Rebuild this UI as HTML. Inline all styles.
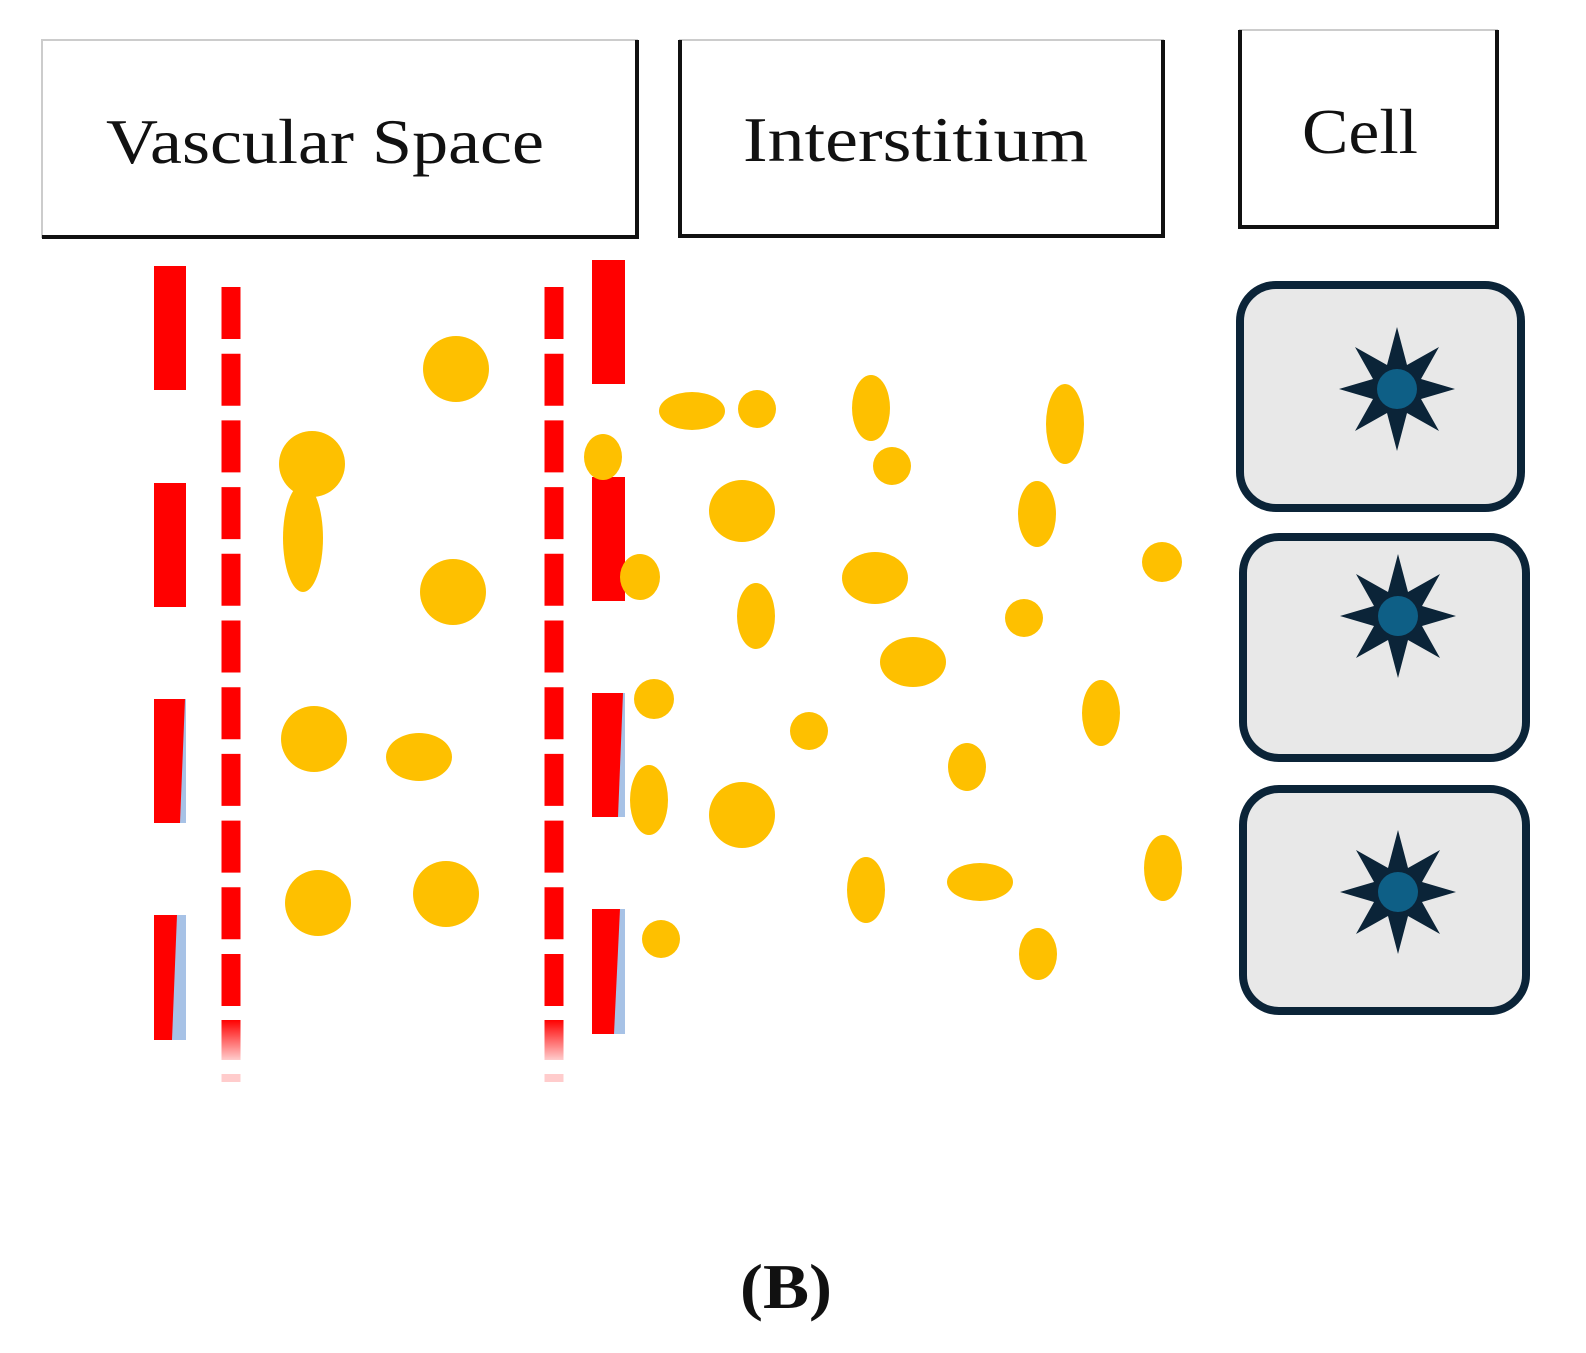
<!DOCTYPE html>
<html><head><style>body{margin:0;background:#fff}svg{display:block}</style></head><body>
<svg width="1586" height="1353" viewBox="0 0 1586 1353" xmlns="http://www.w3.org/2000/svg">
<defs>
<linearGradient id="fade" x1="0" y1="0" x2="0" y2="1"><stop offset="0" stop-color="#f00"/><stop offset="1" stop-color="#f00" stop-opacity="0.2"/></linearGradient>
<g id="star"><polygon points="0,-62 10,-24 42,-42 24,-10 58,0 24,10 42,42 10,24 0,62 -10,24 -42,42 -24,10 -58,0 -24,-10 -42,-42 -10,-24" fill="#0b2438"/><circle r="20" fill="#0e5f86"/></g>
</defs>
<g font-family="Liberation Serif, serif" font-size="64" fill="#111">
<rect x="42" y="40" width="595" height="197" fill="#fff" stroke="#ccc" stroke-width="2"/>
<path d="M42 237 H637 V40" fill="none" stroke="#111" stroke-width="4"/>
<text x="106" y="163" textLength="438" lengthAdjust="spacingAndGlyphs">Vascular Space</text>
<rect x="680" y="40" width="483" height="196" fill="#fff" stroke="#ccc" stroke-width="2"/>
<path d="M680 40 V236 H1163 V40" fill="none" stroke="#111" stroke-width="4"/>
<text x="743" y="161" textLength="345" lengthAdjust="spacingAndGlyphs">Interstitium</text>
<rect x="1240" y="30" width="257" height="197" fill="#fff" stroke="#ccc" stroke-width="2"/>
<path d="M1240 30 V227 H1497 V30" fill="none" stroke="#111" stroke-width="4"/>
<text x="1302" y="153" textLength="116" lengthAdjust="spacingAndGlyphs">Cell</text>
</g>
<line x1="231" y1="287" x2="231" y2="1020" stroke="#f00" stroke-width="19" stroke-dasharray="52 14.7"/>
<rect x="221.5" y="1020" width="19" height="40" fill="url(#fade)"/>
<rect x="221.5" y="1074" width="19" height="8" fill="#fcc"/>
<line x1="554" y1="287" x2="554" y2="1020" stroke="#f00" stroke-width="19" stroke-dasharray="52 14.7"/>
<rect x="544.5" y="1020" width="19" height="40" fill="url(#fade)"/>
<rect x="544.5" y="1074" width="19" height="8" fill="#fcc"/>
<g fill="#f00">
<rect x="154" y="266" width="32" height="124"/>
<rect x="154" y="483" width="32" height="124"/>
<rect x="154" y="699" width="32" height="124" fill="#a7c2e6"/><polygon points="154,699 185,699 180,823 154,823"/>
<rect x="154" y="915" width="32" height="125" fill="#a7c2e6"/><polygon points="154,915 177,915 172,1040 154,1040"/>
<rect x="592" y="260" width="33" height="124"/>
<rect x="592" y="477" width="33" height="124"/>
<rect x="592" y="693" width="33" height="124" fill="#a7c2e6"/><polygon points="592,693 623,693 618,817 592,817"/>
<rect x="592" y="909" width="33" height="125" fill="#a7c2e6"/><polygon points="592,909 620,909 614,1034 592,1034"/>
</g>
<g fill="#fec000">
<circle cx="456" cy="369" r="33"/>
<circle cx="312" cy="464" r="33"/>
<ellipse cx="303" cy="538" rx="20" ry="54"/>
<circle cx="453" cy="592" r="33"/>
<circle cx="314" cy="739" r="33"/>
<ellipse cx="419" cy="757" rx="33" ry="24"/>
<circle cx="318" cy="903" r="33"/>
<circle cx="446" cy="894" r="33"/>
<ellipse cx="603" cy="457" rx="19" ry="23"/>
<ellipse cx="692" cy="411" rx="33" ry="19"/>
<ellipse cx="757" cy="409" rx="19" ry="19"/>
<ellipse cx="871" cy="408" rx="19" ry="33"/>
<circle cx="892" cy="466" r="19"/>
<ellipse cx="1065" cy="424" rx="19" ry="40"/>
<ellipse cx="742" cy="511" rx="33" ry="31"/>
<ellipse cx="1037" cy="514" rx="19" ry="33"/>
<ellipse cx="640" cy="577" rx="20" ry="23"/>
<ellipse cx="875" cy="578" rx="33" ry="26"/>
<ellipse cx="756" cy="616" rx="19" ry="33"/>
<circle cx="1162" cy="562" r="20"/>
<circle cx="1024" cy="618" r="19"/>
<ellipse cx="913" cy="662" rx="33" ry="25"/>
<circle cx="654" cy="699" r="20"/>
<circle cx="809" cy="731" r="19"/>
<ellipse cx="1101" cy="713" rx="19" ry="33"/>
<ellipse cx="967" cy="767" rx="19" ry="24"/>
<ellipse cx="649" cy="800" rx="19" ry="35"/>
<circle cx="742" cy="815" r="33"/>
<ellipse cx="866" cy="890" rx="19" ry="33"/>
<ellipse cx="980" cy="882" rx="33" ry="19"/>
<ellipse cx="1163" cy="868" rx="19" ry="33"/>
<circle cx="661" cy="939" r="19"/>
<ellipse cx="1038" cy="954" rx="19" ry="26"/>
</g>
<g fill="#e8e8e8" stroke="#0b2438" stroke-width="8">
<rect x="1240" y="285" width="281" height="223" rx="36"/>
<rect x="1243" y="537" width="283" height="221" rx="36"/>
<rect x="1243" y="789" width="283" height="222" rx="36"/>
</g>
<use href="#star" x="1397" y="389"/>
<use href="#star" x="1398" y="616"/>
<use href="#star" x="1398" y="892"/>
<text x="740" y="1308" textLength="92" lengthAdjust="spacingAndGlyphs" font-family="Liberation Serif, serif" font-size="64" font-weight="bold" fill="#111">(B)</text>
</svg>
</body></html>
